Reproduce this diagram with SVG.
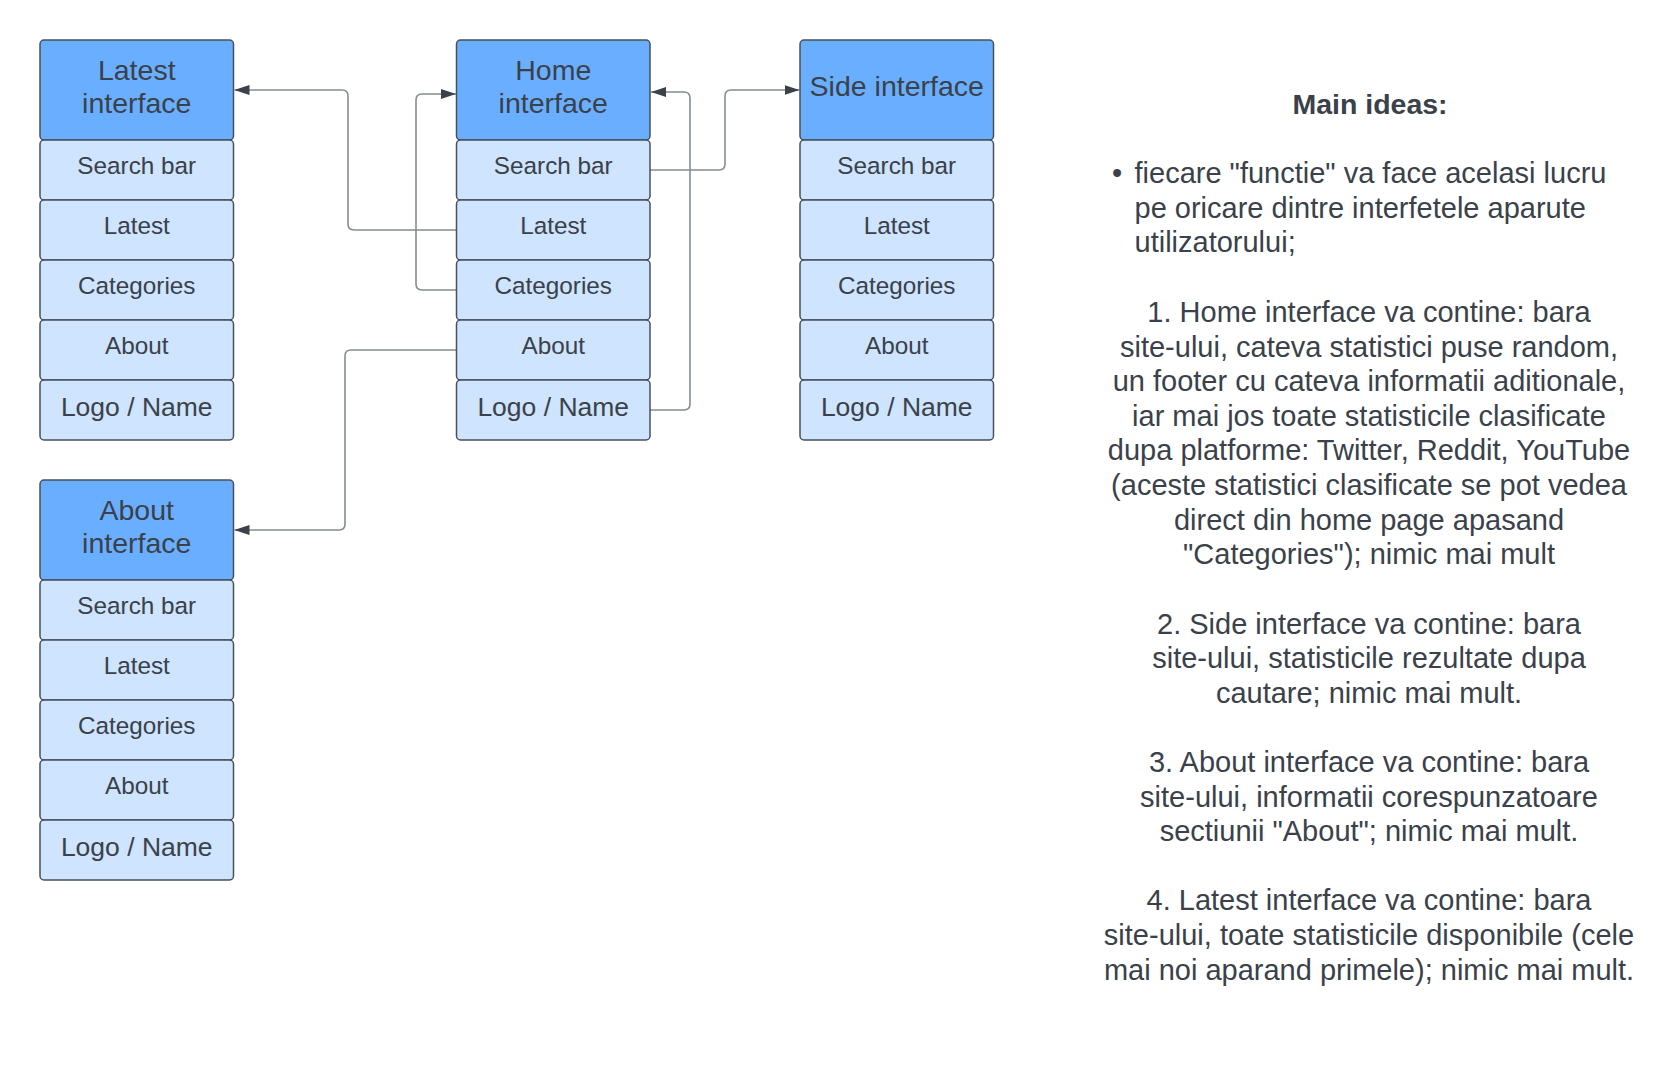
<svg xmlns="http://www.w3.org/2000/svg" width="1680" height="1080" viewBox="0 0 1680 1080">
<defs>
<style>
.hdr{fill:#6aafff;stroke:#47505c;stroke-width:1.5}
.row{fill:#cfe4ff;stroke:#47505c;stroke-width:1.5}
text{font-family:"Liberation Sans",Arial,sans-serif;fill:#3a414a}
.ht{font-size:28.5px;text-anchor:middle}
.rt{font-size:24.3px;text-anchor:middle}
.lt{font-size:26.5px;text-anchor:middle}
.body{font-size:29px;text-anchor:middle}
.bl{font-size:29px}
.title{font-size:28.5px;font-weight:bold;text-anchor:middle}
.conn{fill:none;stroke:#858c95;stroke-width:1.6}
</style>
<marker id="arr" markerWidth="15" markerHeight="10" refX="15" refY="5" orient="auto" markerUnits="userSpaceOnUse">
<path d="M0,0 L15,5 L0,10 Z" fill="#3a414a"/>
</marker>
</defs>
<rect width="1680" height="1080" fill="#ffffff"/>

<g id="connectors">
<path class="conn" d="M456.5,230 H354 Q348,230 348,224 V96 Q348,90 342,90 H234.5" marker-end="url(#arr)"/>
<path class="conn" d="M456.5,290 H422 Q416,290 416,284 V100 Q416,94 422,94 H456" marker-end="url(#arr)"/>
<path class="conn" d="M456.5,350 H351 Q345,350 345,356 V524 Q345,530 339,530 H234.5" marker-end="url(#arr)"/>
<path class="conn" d="M650,410 H684 Q690,410 690,404 V98 Q690,92 684,92 H651" marker-end="url(#arr)"/>
<path class="conn" d="M650,170 H719 Q725,170 725,164 V96 Q725,90 731,90 H799.5" marker-end="url(#arr)"/>
</g>

<g id="latest-interface">
<rect class="hdr" x="40" y="40" width="193.5" height="100" rx="4"/>
<text class="ht" x="136.75" y="80">Latest</text>
<text class="ht" x="136.75" y="113">interface</text>
<rect class="row" x="40" y="140" width="193.5" height="60" rx="4"/>
<text class="rt" x="136.75" y="174">Search bar</text>
<rect class="row" x="40" y="200" width="193.5" height="60" rx="4"/>
<text class="rt" x="136.75" y="234">Latest</text>
<rect class="row" x="40" y="260" width="193.5" height="60" rx="4"/>
<text class="rt" x="136.75" y="294">Categories</text>
<rect class="row" x="40" y="320" width="193.5" height="60" rx="4"/>
<text class="rt" x="136.75" y="354">About</text>
<rect class="row" x="40" y="380" width="193.5" height="60" rx="4"/>
<text class="lt" x="136.75" y="416">Logo / Name</text>
</g>

<g id="home-interface">
<rect class="hdr" x="456.5" y="40" width="193.5" height="100" rx="4"/>
<text class="ht" x="553.25" y="80">Home</text>
<text class="ht" x="553.25" y="113">interface</text>
<rect class="row" x="456.5" y="140" width="193.5" height="60" rx="4"/>
<text class="rt" x="553.25" y="174">Search bar</text>
<rect class="row" x="456.5" y="200" width="193.5" height="60" rx="4"/>
<text class="rt" x="553.25" y="234">Latest</text>
<rect class="row" x="456.5" y="260" width="193.5" height="60" rx="4"/>
<text class="rt" x="553.25" y="294">Categories</text>
<rect class="row" x="456.5" y="320" width="193.5" height="60" rx="4"/>
<text class="rt" x="553.25" y="354">About</text>
<rect class="row" x="456.5" y="380" width="193.5" height="60" rx="4"/>
<text class="lt" x="553.25" y="416">Logo / Name</text>
</g>

<g id="side-interface">
<rect class="hdr" x="800" y="40" width="193.5" height="100" rx="4"/>
<text class="ht" x="896.75" y="96">Side interface</text>
<rect class="row" x="800" y="140" width="193.5" height="60" rx="4"/>
<text class="rt" x="896.75" y="174">Search bar</text>
<rect class="row" x="800" y="200" width="193.5" height="60" rx="4"/>
<text class="rt" x="896.75" y="234">Latest</text>
<rect class="row" x="800" y="260" width="193.5" height="60" rx="4"/>
<text class="rt" x="896.75" y="294">Categories</text>
<rect class="row" x="800" y="320" width="193.5" height="60" rx="4"/>
<text class="rt" x="896.75" y="354">About</text>
<rect class="row" x="800" y="380" width="193.5" height="60" rx="4"/>
<text class="lt" x="896.75" y="416">Logo / Name</text>
</g>

<g id="about-interface">
<rect class="hdr" x="40" y="480" width="193.5" height="100" rx="4"/>
<text class="ht" x="136.75" y="520">About</text>
<text class="ht" x="136.75" y="553">interface</text>
<rect class="row" x="40" y="580" width="193.5" height="60" rx="4"/>
<text class="rt" x="136.75" y="614">Search bar</text>
<rect class="row" x="40" y="640" width="193.5" height="60" rx="4"/>
<text class="rt" x="136.75" y="674">Latest</text>
<rect class="row" x="40" y="700" width="193.5" height="60" rx="4"/>
<text class="rt" x="136.75" y="734">Categories</text>
<rect class="row" x="40" y="760" width="193.5" height="60" rx="4"/>
<text class="rt" x="136.75" y="794">About</text>
<rect class="row" x="40" y="820" width="193.5" height="60" rx="4"/>
<text class="lt" x="136.75" y="856">Logo / Name</text>
</g>

<g id="notes">
<text class="title" x="1370" y="114">Main ideas:</text>
<text class="bl" x="1112" y="183">•</text>
<text class="bl" x="1134.5" y="183">fiecare "functie" va face acelasi lucru</text>
<text class="bl" x="1134.5" y="217.6">pe oricare dintre interfetele aparute</text>
<text class="bl" x="1134.5" y="252.2">utilizatorului;</text>
<text class="body" x="1369" y="322">1. Home interface va contine: bara</text>
<text class="body" x="1369" y="356.6">site-ului, cateva statistici puse random,</text>
<text class="body" x="1369" y="391.2">un footer cu cateva informatii aditionale,</text>
<text class="body" x="1369" y="425.8">iar mai jos toate statisticile clasificate</text>
<text class="body" x="1369" y="460.4">dupa platforme: Twitter, Reddit, YouTube</text>
<text class="body" x="1369" y="495">(aceste statistici clasificate se pot vedea</text>
<text class="body" x="1369" y="529.6">direct din home page apasand</text>
<text class="body" x="1369" y="564.2">"Categories"); nimic mai mult</text>
<text class="body" x="1369" y="633.6">2. Side interface va contine: bara</text>
<text class="body" x="1369" y="668.2">site-ului, statisticile rezultate dupa</text>
<text class="body" x="1369" y="702.8">cautare; nimic mai mult.</text>
<text class="body" x="1369" y="772">3. About interface va contine: bara</text>
<text class="body" x="1369" y="806.6">site-ului, informatii corespunzatoare</text>
<text class="body" x="1369" y="841.2">sectiunii "About"; nimic mai mult.</text>
<text class="body" x="1369" y="910.4">4. Latest interface va contine: bara</text>
<text class="body" x="1369" y="945">site-ului, toate statisticile disponibile (cele</text>
<text class="body" x="1369" y="979.6">mai noi aparand primele); nimic mai mult.</text>
</g>
</svg>
